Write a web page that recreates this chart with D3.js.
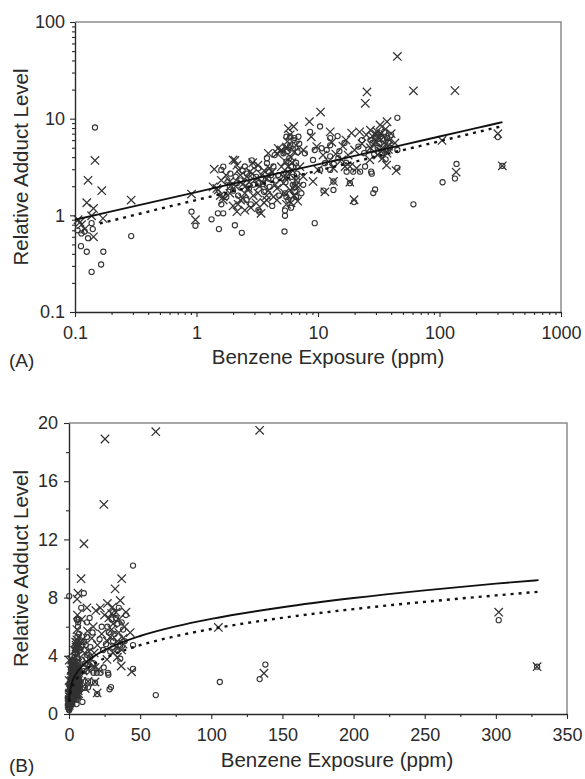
<!DOCTYPE html>
<html>
<head>
<meta charset="utf-8">
<script src="https://cdn.jsdelivr.net/npm/d3@7"></script>
<style>
    body { margin: 0; background: #fff; }
    svg { font-family: "Liberation Sans", Arial, Helvetica, sans-serif; }
</style>
</head>
<body>
<svg id="fig" width="585" height="779"></svg>
<script>
// [benzene ppm, relative adduct level]
const crossPts = [
    [0.146, 3.7], [0.128, 2.3], [0.166, 1.8], [0.125, 1.35], [0.142, 1.18], [0.29, 1.44], [0.137, 0.99],
    [0.17, 0.93], [0.106, 0.9], [0.113, 0.8], [0.142, 0.6], [0.12, 0.72], [0.11, 0.85],
    [0.91, 1.66], [0.98, 0.9],
    [1.47, 1.9], [1.57, 1.6], [1.66, 1.44], [1.88, 1.69], [2.0, 1.25], [2.15, 1.09], [2.3, 1.44], [2.5, 1.13],
    [2.67, 1.9], [2.93, 1.6], [3.1, 1.34], [3.55, 2.15], [3.78, 1.6], [4.3, 1.55], [4.6, 1.9], [5.2, 2.15],
    [5.9, 1.83], [6.4, 1.6], [2.5, 1.69], [1.51, 1.83], [1.37, 1.97], [1.66, 1.55], [3.78, 1.44], [3.6, 1.35],
    [4.6, 1.44], [2.2, 1.3], [2.8, 1.2], [3.4, 1.05], [5.5, 1.3], [6.8, 1.4], [1.9, 2.0], [2.4, 2.1],
    [1.4, 3.0], [2.07, 3.7], [2.15, 3.3], [3.2, 3.3], [2.0, 3.74], [2.22, 2.95], [2.75, 2.83], [3.45, 2.61],
    [4.0, 3.07], [1.88, 2.24], [2.5, 1.97], [3.0, 2.3], [4.45, 2.07], [5.0, 3.19], [1.75, 2.6], [2.6, 2.5],
    [3.8, 2.4], [4.2, 2.8], [5.5, 2.5], [6.2, 2.9], [6.6, 2.3], [2.9, 3.5], [1.6, 2.3], [5.7, 3.19],
    [5.2, 2.52], [7.1, 3.19],
    [2.3, 2.6], [2.9, 2.7], [3.3, 2.0], [3.6, 2.9], [2.1, 2.0], [2.7, 2.2], [3.9, 1.8], [2.4, 1.5], [3.2, 1.7],
    [5.4, 3.6], [6.1, 3.5], [5.8, 2.7], [6.5, 2.0], [5.3, 1.7], [6.0, 1.35], [5.6, 5.8], [6.6, 5.3], [5.9, 6.8],
    [4.9, 4.6], [5.5, 4.9], [6.4, 4.56], [3.9, 4.38], [4.7, 4.94], [4.6, 4.38], [5.5, 5.1], [5.0, 4.74], [6.0, 4.0],
    [6.3, 8.3], [5.7, 7.9], [8.5, 9.3], [10.5, 11.7], [8.8, 6.5], [12.6, 7.3], [7.56, 4.74], [9.76, 5.14],
    [12.2, 3.6], [15.7, 3.75], [7.56, 2.52], [9.1, 2.24], [6.9, 1.97], [6.3, 1.6], [10, 2.95], [16.7, 3.2],
    [11.4, 1.75], [13.4, 2.24], [13.4, 3.07], [14, 4.3], [16, 5.2], [11, 4.2], [13, 5.7], [17, 6.0],
    [18.9, 7.1], [22, 7.3], [27, 7.6], [30.5, 7.35], [32.4, 8.6], [37, 9.3], [20, 4.74], [17.7, 4.2],
    [18.3, 3.2], [18.3, 2.2], [19.8, 1.45], [20.8, 3.07], [26.7, 3.75], [36.7, 3.3], [44, 2.9], [43, 5.6],
    [35, 6.5], [38, 5.2], [33, 4.6], [30, 5.8], [28, 6.6], [40, 7.0], [24.5, 14.4], [25.3, 18.9], [45, 44],
    [34, 5.0], [31, 4.2], [37, 4.4],
    [29, 5.3], [31, 6.2], [33, 7.0], [35, 5.6], [36, 7.8], [39, 6.0], [30, 6.9], [27, 5.0], [25, 6.8],
    [23, 5.5], [38, 4.8], [34, 3.9],
    [61, 19.4], [134, 19.5], [105, 5.95], [302, 7.0], [329, 3.25], [137, 2.8]
];
const circlePts = [
    [0.146, 8.1], [0.137, 0.83], [0.113, 0.65], [0.128, 0.58], [0.29, 0.61], [0.112, 0.48], [0.125, 0.42],
    [0.171, 0.42], [0.164, 0.31], [0.137, 0.26], [0.91, 1.09], [0.98, 0.78], [0.12, 0.68], [0.14, 0.72], [0.105, 0.7],
    [1.33, 0.91], [1.5, 1.05], [1.53, 0.72], [2.07, 0.79], [2.36, 0.66], [3.3, 1.09], [1.76, 1.55], [3.23, 1.13],
    [1.88, 1.97], [2.15, 2.15], [2.93, 2.07], [4.0, 1.97], [5.35, 1.69], [6.2, 2.07], [5.7, 1.44], [2.58, 1.44],
    [1.66, 1.05], [3.23, 2.15], [2.2, 1.6], [3.6, 1.75], [4.8, 1.6], [2.8, 1.3], [4.2, 1.25], [6.5, 1.75],
    [1.6, 1.3], [5.35, 1.12], [5.35, 0.99], [5.3, 0.68],
    [1.6, 2.95], [2.85, 3.7], [3.8, 3.9], [3.8, 3.46], [2.5, 3.2], [4.3, 3.2], [1.66, 3.19], [3.23, 3.07],
    [3.9, 2.83], [4.7, 2.61], [5.5, 3.6], [5.7, 2.95], [6.0, 3.19], [6.7, 2.3], [6.4, 1.97], [7.3, 1.69],
    [7.56, 2.07], [2.1, 2.5], [2.6, 2.7], [3.4, 2.4], [4.5, 2.3], [5.2, 2.7], [1.9, 2.7],
    [2.3, 2.3], [2.7, 1.9], [3.1, 2.5], [3.5, 2.1], [3.9, 2.4], [2.4, 2.9], [3.0, 3.3], [4.1, 2.6], [2.0, 1.8],
    [1.8, 2.2],
    [5.6, 4.6], [6.2, 4.9], [5.8, 3.9], [6.6, 3.5], [5.4, 2.2], [6.1, 2.5], [6.7, 2.7], [5.5, 1.55], [6.6, 1.55],
    [6.0, 1.2],
    [5.2, 4.38], [5.9, 6.5], [6.3, 6.0], [6.9, 6.5], [5.9, 5.3], [6.4, 6.3], [5.5, 6.5], [4.4, 4.2],
    [6.8, 4.5], [7.0, 5.5],
    [8.6, 7.3], [10.4, 8.3], [12.6, 6.3], [9.4, 4.74], [10.7, 4.94], [12.6, 5.3], [10.4, 2.95], [12.6, 2.95],
    [11.4, 3.46], [9.1, 3.74], [7.8, 4.38], [11.8, 4.74], [12.6, 4.07], [14.7, 3.9], [11.1, 1.8], [13.4, 1.83],
    [13.4, 2.24], [9.4, 0.83], [15, 4.6], [16.5, 5.6], [13.5, 3.4], [17, 3.5], [14.5, 6.6],
    [23, 6.0], [27, 6.0], [21.5, 5.14], [24.4, 3.2], [17.2, 2.83], [19.5, 2.83], [22.2, 2.83], [27.4, 2.83],
    [18.3, 2.15], [30, 6.5], [32, 5.5], [34, 6.2], [36, 4.7], [38, 5.8], [40, 6.8], [29, 4.3], [26, 4.8],
    [31, 7.0], [45, 4.74], [45, 10.2], [36, 3.8], [45, 3.1], [28.5, 1.7], [29.5, 1.85], [27.7, 2.7], [19.8, 1.37],
    [33, 6.6], [35, 7.3], [37, 6.3], [28, 5.6], [31, 5.0], [39, 5.0], [24, 4.4], [34, 4.4],
    [106, 2.2], [138, 3.4], [134, 2.4], [302, 6.45], [329, 3.25], [61, 1.3]
];

// the two fitted curves, read along their paths
const solidX = [0.1, 0.2, 0.5, 1, 2, 5, 10, 20, 30, 50, 75, 100, 150, 200, 250, 300, 330];
const solidY = [0.9, 1.1, 1.43, 1.74, 2.13, 2.77, 3.37, 4.12, 4.63, 5.36, 6.02, 6.54, 7.34, 7.97, 8.5, 8.96, 9.2];
const dotX = [0.16, 0.2, 0.5, 1, 2, 5, 10, 20, 30, 50, 75, 100, 150, 200, 250, 300, 330];
const dotY = [0.825, 0.88, 1.17, 1.44, 1.78, 2.35, 2.9, 3.58, 4.05, 4.73, 5.35, 5.84, 6.61, 7.21, 7.71, 8.15, 8.4];

const logXMajor = [0.1, 1, 10, 100, 1000];
const logYMajor = [0.1, 1, 10, 100];
const linXMajor = [0, 50, 100, 150, 200, 250, 300, 350];
const linYMajor = [0, 4, 8, 12, 16, 20];

const xTitle = 'Benzene Exposure (ppm)';
const yTitle = 'Relative Adduct Level';

const svg = d3.select('#fig');
const ink = '#2a2a2a';

function drawPanel (p) {
    const g = svg.append('g');
    const x = p.x, y = p.y;
    const x0 = x.range()[0], x1 = x.range()[1];
    const y0 = y.range()[0], y1 = y.range()[1];

    // top and right frame
    g.append('path')
        .attr('d', 'M' + x0 + ',' + y1 + 'H' + x1 + 'V' + y0)
        .attr('fill', 'none')
        .attr('stroke', '#8a8a8a')
        .attr('stroke-width', 1.5);

    // minor ticks
    g.append('g')
        .attr('transform', 'translate(0,' + y0 + ')')
        .call(d3.axisBottom(x).tickValues(p.xMinor).tickSize(3).tickFormat('').tickSizeOuter(0))
        .call(s => s.select('.domain').remove());
    g.append('g')
        .attr('transform', 'translate(' + x0 + ',0)')
        .call(d3.axisLeft(y).tickValues(p.yMinor).tickSize(3).tickFormat('').tickSizeOuter(0))
        .call(s => s.select('.domain').remove());

    const xAx = g.append('g')
        .attr('transform', 'translate(0,' + y0 + ')')
        .call(d3.axisBottom(x).tickValues(p.xMajor).tickSize(5).tickPadding(p.xPad)
            .tickFormat(d => String(d)).tickSizeOuter(0));
    const yAx = g.append('g')
        .attr('transform', 'translate(' + x0 + ',0)')
        .call(d3.axisLeft(y).tickValues(p.yMajor).tickSize(5).tickPadding(p.yPad)
            .tickFormat(d => String(d)).tickSizeOuter(0));

    g.selectAll('.tick line').attr('stroke', ink).attr('stroke-width', 1.1);
    [xAx, yAx].forEach(a => {
        a.select('.domain').attr('stroke', ink).attr('stroke-width', 1.4);
        a.selectAll('text')
            .style('font-size', '18px')
            .style('font-family', '"Liberation Sans", Arial, sans-serif')
            .attr('fill', ink);
    });

    const inside = d => d[1] >= y.domain()[0] && d[1] <= y.domain()[1];

    g.selectAll('circle.pt')
        .data(circlePts.filter(inside)).enter()
        .append('circle')
        .attr('class', 'pt')
        .attr('cx', d => x(d[0]))
        .attr('cy', d => y(d[1]))
        .attr('r', 2.6)
        .attr('fill', 'none')
        .attr('stroke', '#333')
        .attr('stroke-width', 1.1);

    g.selectAll('path.cross')
        .data(crossPts.filter(inside)).enter()
        .append('path')
        .attr('class', 'cross')
        .attr('d', 'M-4.2,-4.2L4.2,4.2M-4.2,4.2L4.2,-4.2')
        .attr('transform', d => 'translate(' + x(d[0]) + ',' + y(d[1]) + ')')
        .attr('fill', 'none')
        .attr('stroke', '#333')
        .attr('stroke-width', 1.25);

    const line = d3.line()
        .x(d => x(d[0]))
        .y(d => y(d[1]))
        .curve(p.curve);

    g.append('path')
        .attr('d', line(solidX.map((v, i) => [v, solidY[i]])))
        .attr('fill', 'none')
        .attr('stroke', '#111')
        .attr('stroke-width', 1.9);
    g.append('path')
        .attr('d', line(dotX.map((v, i) => [v, dotY[i]])))
        .attr('fill', 'none')
        .attr('stroke', '#111')
        .attr('stroke-width', 2.4)
        .attr('stroke-dasharray', '3,5');

    g.append('text')
        .attr('x', p.titleX)
        .attr('y', p.titleY)
        .attr('text-anchor', 'middle')
        .style('font-size', '20.5px')
        .attr('fill', ink)
        .text(xTitle);
    g.append('text')
        .attr('transform', 'translate(28,' + ((y0 + y1) / 2) + ') rotate(-90)')
        .attr('text-anchor', 'middle')
        .style('font-size', '20.5px')
        .attr('fill', ink)
        .text(yTitle);
    g.append('text')
        .attr('x', 9)
        .attr('y', p.tagY)
        .style('font-size', '19px')
        .attr('fill', ink)
        .text(p.tag);
}

// (A) log-log
const xLog = d3.scaleLog().domain([0.1, 1000]).range([75, 561]);
const yLog = d3.scaleLog().domain([0.1, 100]).range([312, 22]);
drawPanel({
    x: xLog, y: yLog,
    xMajor: logXMajor, yMajor: logYMajor,
    xMinor: xLog.ticks().filter(v => logXMajor.indexOf(v) < 0),
    yMinor: yLog.ticks().filter(v => logYMajor.indexOf(v) < 0),
    xPad: 9, yPad: 5,
    curve: d3.curveLinear,
    titleX: 328, titleY: 364, tag: '(A)', tagY: 367
});

// (B) linear
const xLin = d3.scaleLinear().domain([0, 350]).range([69, 567]);
const yLin = d3.scaleLinear().domain([0, 20]).range([714, 423]);
drawPanel({
    x: xLin, y: yLin,
    xMajor: linXMajor, yMajor: linYMajor,
    xMinor: d3.range(25, 350, 50),
    yMinor: d3.range(2, 20, 4),
    xPad: 9, yPad: 6,
    curve: d3.curveMonotoneX,
    titleX: 337, titleY: 767, tag: '(B)', tagY: 772
});
</script>
</body>
</html>
